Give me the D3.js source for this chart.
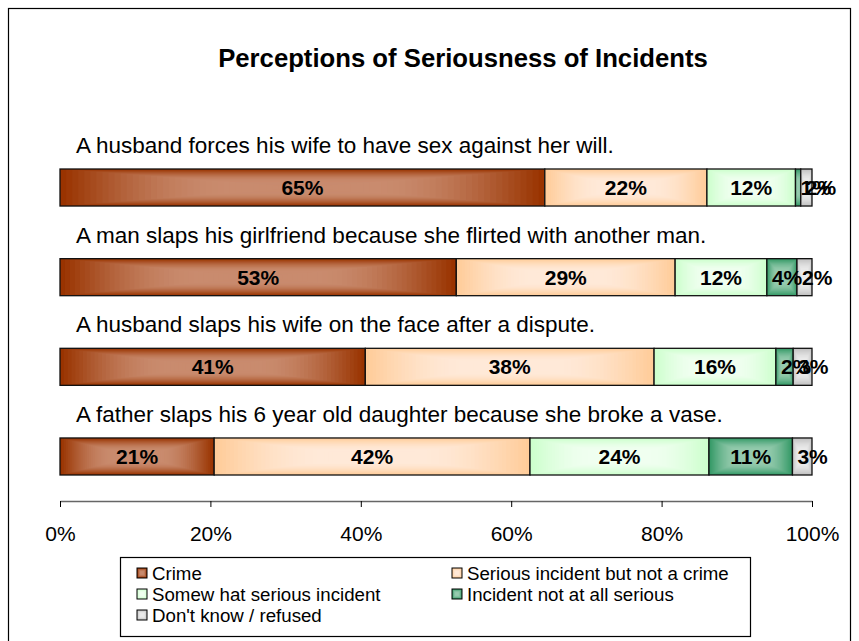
<!DOCTYPE html>
<html>
<head>
<meta charset="utf-8">
<script src="https://cdn.jsdelivr.net/npm/d3@7"></script>
<style>
  html, body { margin: 0; padding: 0; background: #fff; }
  svg { display: block; font-family: Arial, "Liberation Sans", sans-serif; }
</style>
</head>
<body>
<svg id="chart" width="859" height="641"></svg>
<script>
// ---- data ----
const title = "Perceptions of Seriousness of Incidents";
const categories = [
  "A husband forces his wife to have sex against her will.",
  "A man slaps his girlfriend because she flirted with another man.",
  "A husband slaps his wife on the face after a dispute.",
  "A father slaps his 6 year old daughter because she broke a vase."
];
const seriesNames = [
  "Crime",
  "Serious incident but not a crime",
  "Somew hat serious incident",
  "Incident not at all serious",
  "Don't know  / refused"
];
const crime      = [64.6, 52.7, 40.6, 20.5];
const serious    = [21.6, 29.1, 38.4, 42.0];
const somewhat   = [11.8, 12.2, 16.2, 23.8];
const notSerious = [0.7, 4.0, 2.3, 11.1];
const dontKnow   = [1.5, 2.0, 2.5, 2.6];
const tickValues = [0, 0.2, 0.4, 0.6, 0.8, 1.0];
const tickLabels = ["0%", "20%", "40%", "60%", "80%", "100%"];

// colours: [edge, centre] of a rectangular path gradient
const edgeColors   = ["#993300", "#FFCC99", "#CCFFCC", "#339966", "#C0C0C0"];
const centerColors = ["#C98B6E", "#FFE9D8", "#F0FFF0", "#96CBAE", "#EBEBEB"];

const seriesValues = [crime, serious, somewhat, notSerious, dontKnow];

const svg = d3.select("#chart");

// outer frame
svg.append("rect").attr("x", 8.5).attr("y", 8.5).attr("width", 842).attr("height", 645)
  .attr("fill", "#fff").attr("stroke", "#000").attr("stroke-width", 1.2);

// title
svg.append("text").attr("x", 463).attr("y", 67).attr("text-anchor", "middle")
  .attr("font-weight", "bold").attr("font-size", 25.7).attr("fill", "#000").text(title);

const x = d3.scaleLinear().domain([0, 1]).range([60, 812]);
const y = d3.scaleBand().domain(categories).range([169, 475]).paddingInner(0.587).paddingOuter(0);

// stack data (100% stacked)
const rows = categories.map((c, i) => {
  const vals = seriesValues.map(s => s[i]);
  const total = d3.sum(vals);
  let acc = 0;
  return { cat: c, segs: vals.map((v, k) => {
    const s = { k, v, x0: acc / total, x1: (acc + v) / total };
    acc += v; return s; }) };
});

const N = 40;
function drawGradRect(g, x0, y0, w, h, k, n) {
  const interp = d3.interpolateRgb(edgeColors[k], centerColors[k]);
  for (let i = 0; i < n; i++) {
    const t = i / n;
    const e = Math.min(1, t / 0.7);
    const col = interp(Math.sin(e * Math.PI / 2));
    g.append("rect")
      .attr("x", x0 + t * w / 2).attr("y", y0 + t * h / 2)
      .attr("width", Math.max(0, w * (1 - t))).attr("height", Math.max(0, h * (1 - t)))
      .attr("fill", col);
  }
}

const barsG = svg.append("g");
rows.forEach(r => {
  const by = y(r.cat), bh = y.bandwidth();
  // category label
  svg.append("text").attr("x", 76).attr("y", by - 16).attr("font-size", 22.5)
    .attr("fill", "#000").text(r.cat);
  r.segs.forEach(s => {
    const sx = x(s.x0), sw = x(s.x1) - x(s.x0);
    const g = barsG.append("g");
    drawGradRect(g, sx, by, sw, bh, s.k, N);
    g.append("rect").attr("x", sx).attr("y", by).attr("width", sw).attr("height", bh)
      .attr("fill", "none").attr("stroke", "#111").attr("stroke-width", 1.3);
  });
});
// labels on top
rows.forEach(r => {
  const by = y(r.cat), bh = y.bandwidth();
  r.segs.forEach(s => {
    const sx = x(s.x0), sw = x(s.x1) - x(s.x0);
    const lab = Math.round(s.v) + "%";
    const narrow = sw < 34;
    svg.append("text")
      .attr("x", narrow ? sx + 5 : sx + sw / 2)
      .attr("y", by + bh / 2 + 7.5)
      .attr("text-anchor", narrow ? "start" : "middle")
      .attr("font-weight", "bold").attr("font-size", 21).attr("fill", "#000")
      .text(lab);
  });
});

// axis
const axisY = 501;
const axisG = svg.append("g").attr("transform", `translate(0,${axisY})`)
  .call(d3.axisBottom(x).tickValues(tickValues).tickSize(6).tickSizeOuter(0)
    .tickFormat((d, i) => tickLabels[i]));
axisG.select(".domain").attr("stroke", "#666").attr("stroke-width", 1.5);
axisG.selectAll(".tick line").attr("stroke", "#000");
axisG.selectAll(".tick text").attr("font-size", 21).attr("fill", "#000")
  .attr("font-family", "Arial, 'Liberation Sans', sans-serif").attr("dy", 0).attr("y", 40);

// legend
const lg = svg.append("g");
lg.append("rect").attr("x", 120.5).attr("y", 557.5).attr("width", 630).attr("height", 79)
  .attr("fill", "#fff").attr("stroke", "#000").attr("stroke-width", 1.2);
const legendPos = [[137, 573], [452, 573], [137, 594], [452, 594], [137, 615]];
seriesNames.forEach((n, k) => {
  const [lx, ly] = legendPos[k];
  const g = lg.append("g");
  drawGradRect(g, lx, ly - 5, 10, 10, k, 8);
  g.append("rect").attr("x", lx).attr("y", ly - 5).attr("width", 10).attr("height", 10)
    .attr("fill", "none").attr("stroke", "#000").attr("stroke-width", 1);
  lg.append("text").attr("x", lx + 15).attr("y", ly + 6.5).attr("font-size", 18.7)
    .attr("fill", "#000").text(n);
});
</script>
</body>
</html>
